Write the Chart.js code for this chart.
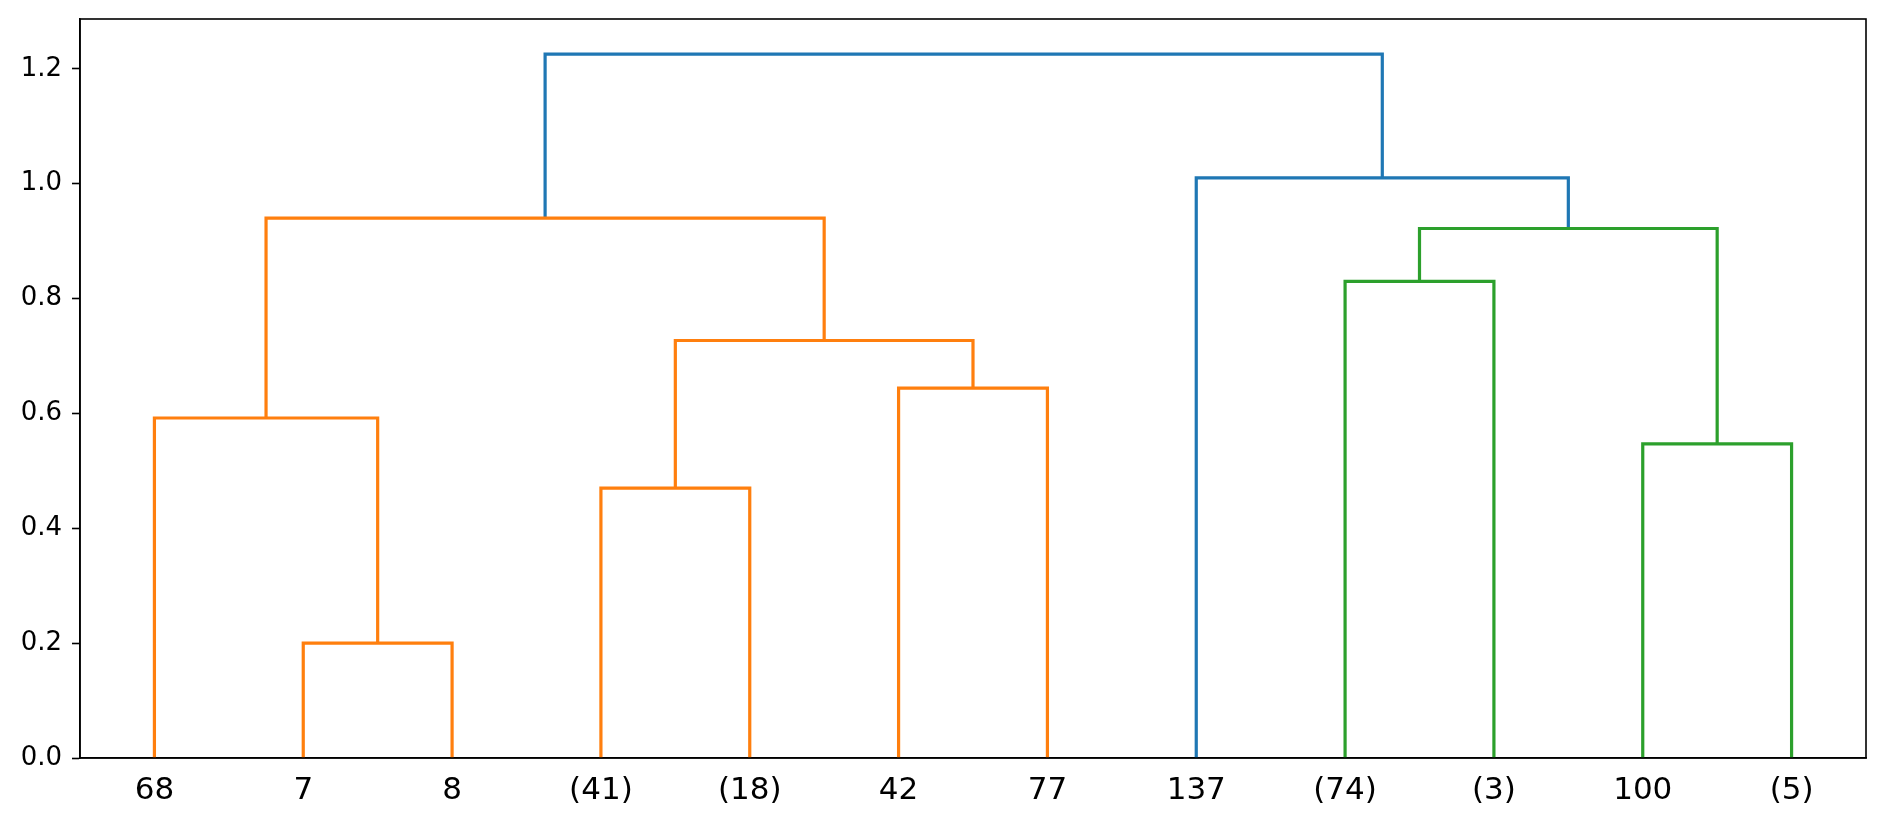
<!DOCTYPE html>
<html>
<head>
<meta charset="utf-8">
<script src="https://cdn.jsdelivr.net/npm/chart.js@4/dist/chart.umd.min.js"></script>
<style>
  html, body { margin: 0; padding: 0; background: #ffffff; }
  #wrap { width: 1885px; height: 827px; }
</style>
</head>
<body>
<div id="wrap"><canvas id="c" width="1885" height="827"></canvas></div>
<script>
// Leaf labels (left to right)
const leafLabels = ['68', '7', '8', '(41)', '(18)', '42', '77', '137', '(74)', '(3)', '100', '(5)'];
// Merges: ids 0..11 are leaves, merge k creates cluster id 12+k
const mergeLeft   = [1, 3, 5, 8, 10, 0, 13, 15, 17, 7, 20];
const mergeRight  = [2, 4, 6, 9, 11, 12, 14, 16, 18, 19, 21];
const mergeHeights = [0.200, 0.470, 0.644, 0.830, 0.547, 0.592, 0.727, 0.922, 0.940, 1.010, 1.2255];
const mergeColors = ['orange', 'orange', 'orange', 'green', 'green', 'orange', 'orange', 'green', 'orange', 'blue', 'blue'];
const yTickValues = [0.0, 0.2, 0.4, 0.6, 0.8, 1.0, 1.2];

const palette = { blue: '#1f77b4', orange: '#ff7f0e', green: '#2ca02c' };

// dendrogram layout: leaf i sits at 5 + 10*i, cluster at mean of children
const nLeaves = leafLabels.length;
const pos = [], hgt = [];
for (let i = 0; i < nLeaves; i++) { pos.push(5 + 10 * i); hgt.push(0); }
const datasets = [];
for (let k = 0; k < mergeHeights.length; k++) {
  const l = mergeLeft[k], r = mergeRight[k], h = mergeHeights[k];
  datasets.push({
    data: [
      { x: pos[l], y: hgt[l] },
      { x: pos[l], y: h },
      { x: pos[r], y: h },
      { x: pos[r], y: hgt[r] }
    ],
    borderColor: palette[mergeColors[k]],
    backgroundColor: palette[mergeColors[k]],
    borderWidth: 3.2,
    showLine: true,
    pointRadius: 0,
    pointHoverRadius: 0,
    tension: 0,
    borderJoinStyle: 'miter',
    borderCapStyle: 'butt',
    fill: false
  });
  pos.push((pos[l] + pos[r]) / 2);
  hgt.push(h);
}
const yMax = Math.max(...mergeHeights) * 1.05;
const xMax = nLeaves * 10;

const frame = {
  id: 'frame',
  afterDatasetsDraw(chart) {
    const a = chart.chartArea, ctx = chart.ctx;
    ctx.save();
    ctx.strokeStyle = '#000';
    ctx.lineWidth = 1.6;
    ctx.strokeRect(a.left, a.top, a.right - a.left, a.bottom - a.top);
    ctx.restore();
  }
};

new Chart(document.getElementById('c'), {
  type: 'scatter',
  data: { datasets },
  plugins: [frame],
  options: {
    responsive: false,
    animation: false,
    layout: { padding: { top: 19, right: 19, left: 0, bottom: 0 } },
    plugins: { legend: { display: false }, tooltip: { enabled: false } },
    scales: {
      x: {
        type: 'linear',
        min: 0,
        max: xMax,
        afterBuildTicks(axis) { axis.ticks = leafLabels.map((_, i) => ({ value: 5 + 10 * i })); },
        afterFit(axis) { axis.height = 69; axis.paddingLeft = 0; axis.paddingRight = 0; },
        grid: { display: true, drawOnChartArea: false, drawTicks: false },
        border: { display: true, color: '#000', width: 1.6 },
        ticks: {
          autoSkip: false,
          maxRotation: 0,
          minRotation: 0,
          padding: 14,
          color: '#000',
          font: { family: 'DejaVu Sans', size: 31 },
          callback: (v) => leafLabels[Math.round((v - 5) / 10)]
        }
      },
      y: {
        type: 'linear',
        min: 0,
        max: yMax,
        afterBuildTicks(axis) { axis.ticks = yTickValues.map(v => ({ value: v })); },
        afterFit(axis) { axis.width = 80; axis.paddingTop = 0; axis.paddingBottom = 0; },
        grid: { display: true, drawOnChartArea: false, drawTicks: true, tickLength: 8, tickColor: '#000', tickWidth: 1.6 },
        border: { display: true, color: '#000', width: 1.6 },
        ticks: {
          padding: 10,
          color: '#000',
          font: { family: 'DejaVu Sans', size: 26 },
          callback: (v) => Number(v).toFixed(1)
        }
      }
    }
  }
});
</script>
</body>
</html>
